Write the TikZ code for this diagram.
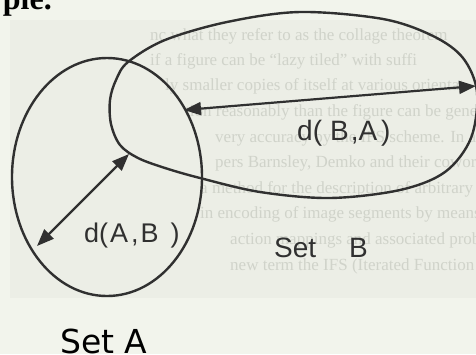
\documentclass[tikz,border=0pt]{standalone}
\usepackage{fontspec}
\setmainfont{Liberation Serif}
\newfontfamily\labelfont{Liberation Sans}
\newfontfamily\setfont{DejaVu Sans}
\usetikzlibrary{arrows.meta,shapes.geometric}
\definecolor{paper}{RGB}{242,244,236}
\definecolor{paperin}{RGB}{236,238,230}
\definecolor{ghost}{RGB}{208,211,202}
\definecolor{ink}{RGB}{48,48,48}
\begin{document}
\begin{tikzpicture}[x=1pt,y=-1pt,
  outline/.style={draw=ink, line width=2.4pt},
  dist/.style={draw=ink, line width=2.2pt,
    {Triangle[length=17pt,width=13pt]}-{Triangle[length=17pt,width=13pt]}},
  lbl/.style={anchor=base west, inner sep=0pt, text=ink},
  ghosttext/.style={anchor=base west, inner sep=0pt, text=ghost,
    font=\fontsize{17}{17}\selectfont}]
\useasboundingbox (0,0) rectangle (476,354);
\fill[paper] (0,0) rectangle (476,354);
\fill[paperin] (10,20) rectangle (476,298);
% faint text of the scanned page
\node[ghosttext] (g1) at (150,40) {nc what they refer to as the collage theorem};
\node[ghosttext] (g2) at (150,65) {if a figure can be ``lazy tiled'' with suffi};
\node[ghosttext] (g3) at (165,90) {ly smaller copies of itself at various orientat};
\node[ghosttext] (g4) at (185,116) {tion reasonably than the figure can be gene};
\node[ghosttext] (g5) at (215,142) {very accuracy by the IFS scheme. In a sca};
\node[ghosttext] (g6) at (215,167) {pers Barnsley, Demko and their coworkers};
\node[ghosttext] (g7) at (200,193) {a method for the description of arbitrary ir};
\node[ghosttext] (g8) at (200,218) {in encoding of image segments by means};
\node[ghosttext] (g9) at (230,244) {action mappings and associated problem};
\node[ghosttext] (g10) at (230,270) {new term the IFS (Iterated Function Sy};
\node[anchor=base east, inner sep=0pt, font=\bfseries\fontsize{32}{32}\selectfont] (ple) at (52,9) {ple.};
% Set A
\node[outline, ellipse, minimum width=190pt, minimum height=238pt, inner sep=0pt] (setA) at (107,177) {};
% Set B
\draw[outline] plot[smooth cycle, tension=0.55] coordinates {(110,100) (116,80) (128,62) (165,40) (227,22) (300,12) (383,19) (433,36) (463,58) (477,92) (471,138) (445,172) (400,190) (330,198) (260,192) (200,178) (165,168) (138,158) (120,145) (111,124)};
% distances
\coordinate (baL) at (184,110);
\coordinate (baR) at (476,86);
\draw[dist] (baL) -- (baR);
\coordinate (abL) at (37,246);
\coordinate (abR) at (129,154);
\draw[dist] (abL) -- (abR);
% labels
\node[lbl, font=\labelfont\fontsize{28}{28}\selectfont] (dBA) at (297,140) {d(\hspace{8pt}B\hspace{2pt},A\hspace{4pt})};
\node[lbl, font=\labelfont\fontsize{27}{27}\selectfont] (dAB) at (84,242) {d(\hspace{2pt}A\hspace{3pt},\hspace{2pt}B\hspace{12pt})};
\node[lbl, font=\labelfont\fontsize{28}{28}\selectfont] (setBl) at (274,257) {Set\hspace{33pt}B};
\node[lbl, font=\setfont\fontsize{33}{33}\selectfont, text=black] (setAl) at (60,353) {Set A};
\end{tikzpicture}
\end{document}
